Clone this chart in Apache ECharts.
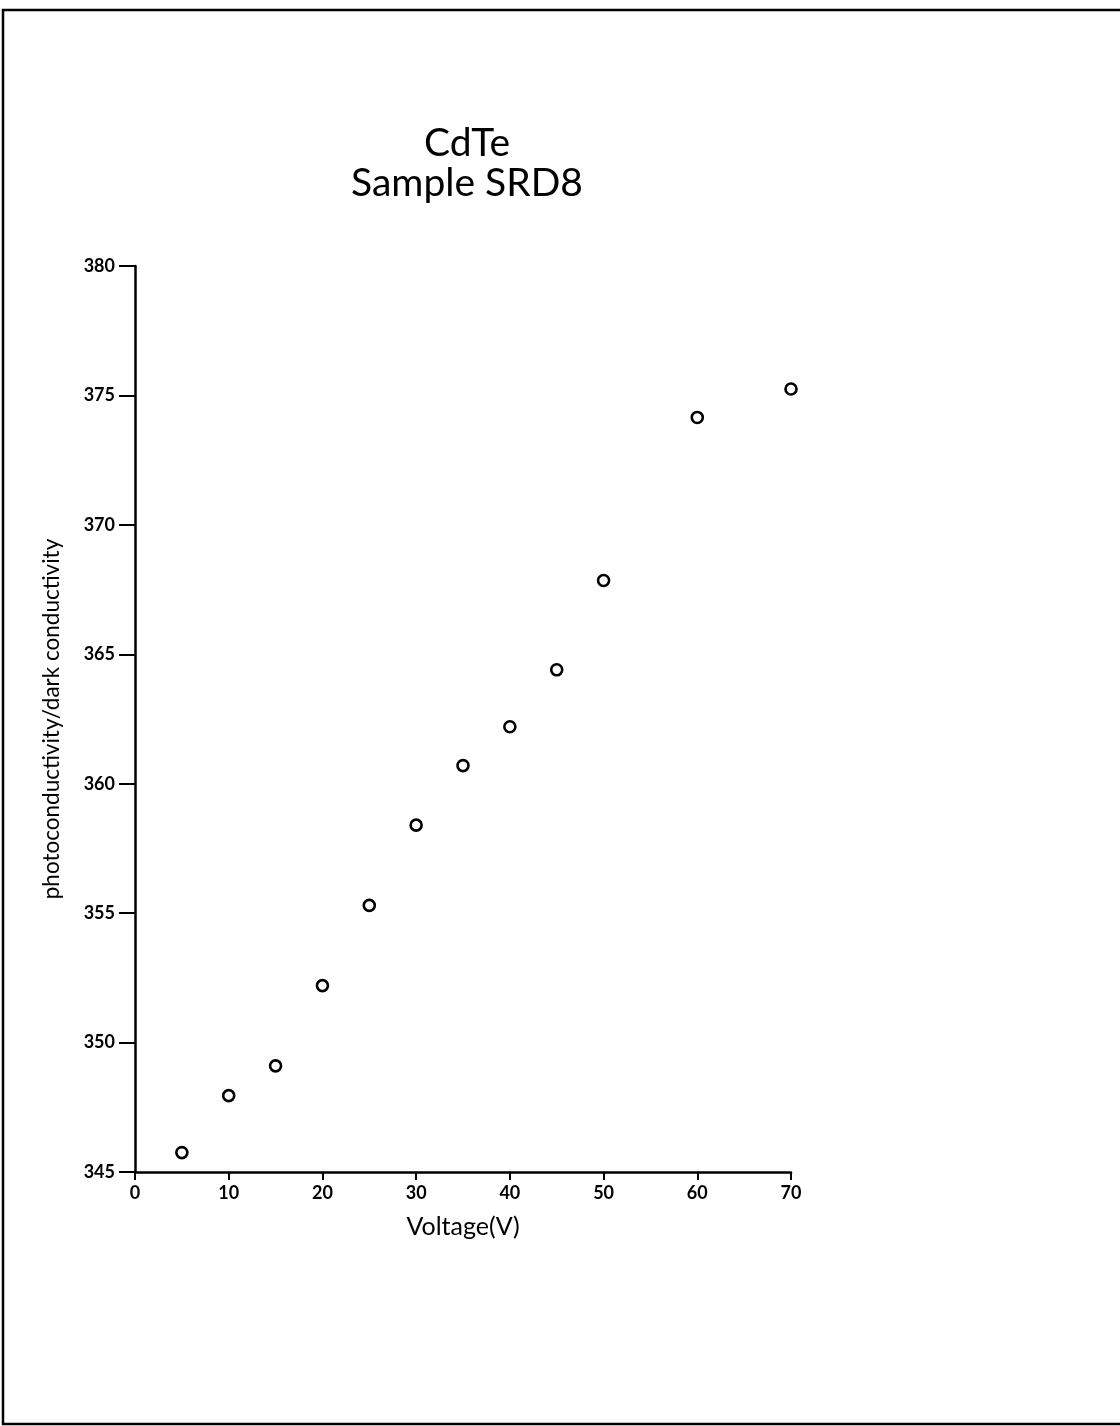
<!DOCTYPE html>
<html>
<head>
<meta charset="utf-8">
<title>CdTe Sample SRD8</title>
<script src="https://cdn.jsdelivr.net/npm/echarts@6/dist/echarts.min.js"></script>
<style>
  html, body { margin: 0; padding: 0; background: #fff; }
  #chart { width: 1120px; height: 1426px; }
</style>
</head>
<body>
<div id="chart"></div>
<script>
// Measured ratio of photoconductivity to dark conductivity vs applied voltage
const voltage = [5, 10, 15, 20, 25, 30, 35, 40, 45, 50, 60, 70];
const ratio = [345.75, 347.95, 349.1, 352.2, 355.3, 358.4, 360.7, 362.2, 364.4, 367.85, 374.15, 375.25];

const titleLines = ['CdTe', 'Sample SRD8'];
const xAxisName = 'Voltage(V)';
const yAxisName = 'photoconductivity/dark conductivity';

const FONT = 'Lato, "DejaVu Sans", sans-serif';

const chart = echarts.init(document.getElementById('chart'), null, { renderer: 'canvas' });

chart.setOption({
  backgroundColor: '#ffffff',
  animation: false,
  title: {
    text: titleLines.join('\n'),
    left: 462,
    top: 118,
    textAlign: 'center',
    textStyle: {
      fontFamily: FONT,
      fontSize: 39,
      fontWeight: 'normal',
      color: '#000',
      lineHeight: 40
    }
  },
  graphic: [
    {
      type: 'rect',
      shape: { x: 3, y: 10, width: 1130, height: 1414 },
      style: { fill: 'none', stroke: '#000', lineWidth: 2.5 },
      silent: true
    }
  ],
  grid: {
    left: 135,
    right: 1120 - 791,
    top: 266,
    bottom: 1426 - 1172,
    containLabel: false
  },
  xAxis: {
    type: 'value',
    min: 0,
    max: 70,
    interval: 10,
    name: xAxisName,
    nameLocation: 'middle',
    nameGap: 42,
    nameTextStyle: { fontFamily: FONT, fontSize: 25, color: '#000' },
    axisLine: { onZero: false, lineStyle: { color: '#000', width: 2.5 } },
    axisTick: { show: true, inside: false, length: 8, lineStyle: { color: '#000', width: 2 } },
    axisLabel: {
      fontFamily: FONT, fontSize: 18, fontWeight: 'bold', color: '#000', margin: 12
    },
    splitLine: { show: false }
  },
  yAxis: {
    type: 'value',
    min: 345,
    max: 380,
    interval: 5,
    name: yAxisName,
    nameLocation: 'middle',
    nameGap: 72,
    nameRotate: 90,
    nameTextStyle: { fontFamily: FONT, fontSize: 22.5, color: '#000' },
    axisLine: { onZero: false, lineStyle: { color: '#000', width: 2.5 } },
    axisTick: { show: true, inside: false, length: 16, lineStyle: { color: '#000', width: 2 } },
    axisLabel: {
      fontFamily: FONT, fontSize: 18, fontWeight: 'bold', color: '#000', margin: 20
    },
    splitLine: { show: false }
  },
  series: [
    {
      type: 'scatter',
      data: voltage.map((v, i) => [v, ratio[i]]),
      symbol: 'circle',
      symbolSize: 11,
      itemStyle: { color: '#fff', borderColor: '#000', borderWidth: 2.6, opacity: 1 }
    }
  ]
});
</script>
</body>
</html>
